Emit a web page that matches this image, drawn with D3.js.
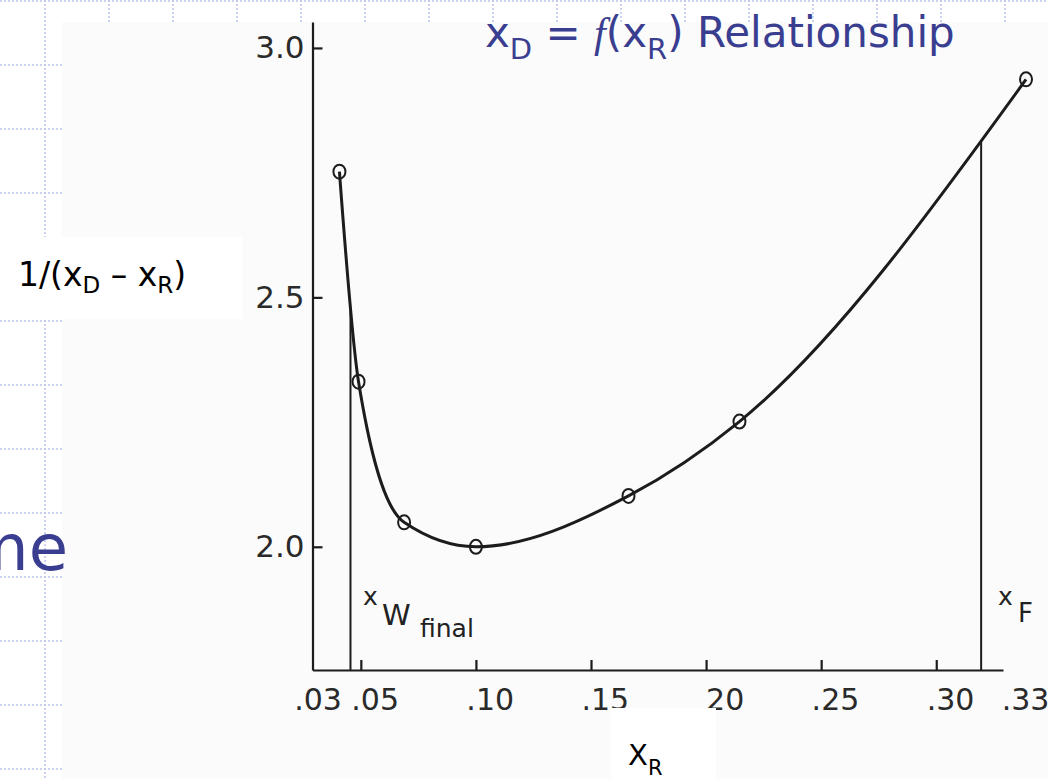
<!DOCTYPE html>
<html>
<head>
<meta charset="utf-8">
<script src="https://cdn.jsdelivr.net/npm/d3@7"></script>
<style>
  body { margin: 0; background: #fff; }
  svg { display: block; }
</style>
</head>
<body>
<div id="chart"></div>
<script>
// points: x_R and 1/(x_D - x_R)
const xR = [0.0407, 0.049, 0.0688, 0.100, 0.1663, 0.2145, 0.339];
const invDiff = [2.752, 2.331, 2.049, 2.000, 2.102, 2.251, 2.937];

const xTicks = [0.05, 0.10, 0.15, 0.20, 0.25, 0.30];
const xLabelValues = [0.03, 0.05, 0.10, 0.15, 0.20, 0.25, 0.30, 0.33];
const xLabels = [".03", ".05", ".10", ".15", "20", ".25", ".30", ".33"];
const yTicks = [2.0, 2.5, 3.0];
const yLabels = ["2.0", "2.5", "3.0"];

const xWfinal = 0.0455;
const xFeed = 0.3195;

const width = 1048, height = 779;
const ink = "#1c1c1c";
const slideBlue = "#3a3e90";

const svg = d3.select("#chart").append("svg")
    .attr("width", width)
    .attr("height", height);

// slide grid (dotted) behind the pasted figure
const grid = svg.append("g").attr("stroke", "#b9c6ee").attr("stroke-width", 1.5)
    .attr("stroke-dasharray", "2,2");
grid.selectAll("line.h").data(d3.range(1, height, 64)).enter().append("line")
    .attr("x1", 0).attr("x2", d => d < 22 ? width : 62)
    .attr("y1", d => d).attr("y2", d => d);
grid.selectAll("line.v").data(d3.range(45, width, 64)).enter().append("line")
    .attr("x1", d => d).attr("x2", d => d)
    .attr("y1", 0).attr("y2", d => d < 62 ? height : 22);

// the scanned page
svg.append("rect").attr("x", 62).attr("y", 22)
    .attr("width", width - 62).attr("height", height - 22)
    .attr("fill", "#fbfbfb");

svg.append("text")
    .attr("x", 68).attr("y", 570)
    .attr("text-anchor", "end")
    .attr("font-family", "DejaVu Sans, Verdana, sans-serif")
    .attr("font-size", 64)
    .attr("fill", slideBlue)
    .text("me");

const x = d3.scaleLinear().domain([0.029, 0.329]).range([312.5, 1003]);
const y = d3.scaleLinear().domain([1.753, 3.052]).range([670, 22]);

const chart = svg.append("g");

chart.append("g")
    .attr("transform", `translate(0,${y.range()[0]})`)
    .call(d3.axisBottom(x).tickValues(xTicks).tickSize(-10).tickSizeOuter(0).tickFormat(""))
    .call(g => g.selectAll("path, line").attr("stroke", ink).attr("stroke-width", 2.2));

chart.append("g")
    .attr("transform", `translate(${x.range()[0]},0)`)
    .call(d3.axisLeft(y).tickValues(yTicks).tickSize(-10).tickSizeOuter(0)
      .tickPadding(8).tickFormat((d, i) => yLabels[i]))
    .call(g => g.selectAll("path, line").attr("stroke", ink).attr("stroke-width", 2.2))
    .call(g => g.selectAll("text")
      .attr("font-family", "DejaVu Sans, sans-serif")
      .attr("font-size", 31)
      .attr("fill", "#2a2a2a"));

// x tick labels: digits start at the tick, the leading dot hangs to the left
const nudge = { 0.03: -11, 0.33: 6 };
const xl = chart.append("g")
    .attr("font-family", "DejaVu Sans, sans-serif")
    .attr("font-size", 30)
    .attr("fill", "#2a2a2a");
const probe = xl.append("text").text(".");
const dotW = probe.node().getComputedTextLength();
probe.remove();
xl.selectAll("text").data(xLabelValues).enter().append("text")
    .attr("x", (d, i) => x(d) - (xLabels[i][0] === "." ? dotW : 0) + (nudge[d] || 0))
    .attr("y", 710)
    .text((d, i) => xLabels[i]);

// smooth curve through the points
const pts = xR.map((d, i) => [d, invDiff[i]]);
const line = d3.line().x(d => x(d[0])).y(d => y(d[1])).curve(d3.curveMonotoneX);
const curve = chart.append("path")
    .attr("d", line(pts))
    .attr("fill", "none")
    .attr("stroke", ink)
    .attr("stroke-width", 3);

// where the curve crosses a given x (pixel), by bisecting along the path
function curveYAt(px) {
  const node = curve.node();
  let lo = 0, hi = node.getTotalLength();
  for (let k = 0; k < 40; k++) {
    const mid = (lo + hi) / 2;
    if (node.getPointAtLength(mid).x < px) lo = mid; else hi = mid;
  }
  return node.getPointAtLength(lo).y;
}

[xWfinal, xFeed].forEach(v => {
  chart.append("line")
    .attr("x1", x(v)).attr("x2", x(v))
    .attr("y1", y.range()[0]).attr("y2", curveYAt(x(v)))
    .attr("stroke", ink).attr("stroke-width", 2);
});

chart.selectAll("ellipse.pt").data(pts).enter().append("ellipse")
    .attr("cx", d => x(d[0])).attr("cy", d => y(d[1]))
    .attr("rx", 6).attr("ry", 7)
    .attr("fill", "none")
    .attr("stroke", ink).attr("stroke-width", 2);

// lettering on the figure
const letter = chart.append("g")
    .attr("font-family", "DejaVu Sans, sans-serif")
    .attr("fill", "#222");
letter.append("text").attr("x", 363).attr("y", 605).attr("font-size", 25).text("x");
letter.append("text").attr("x", 382).attr("y", 625).attr("font-size", 29).text("W");
letter.append("text").attr("x", 420).attr("y", 637).attr("font-size", 25).text("final");
letter.append("text").attr("x", 998).attr("y", 605).attr("font-size", 25).text("x");
letter.append("text").attr("x", 1018).attr("y", 622).attr("font-size", 26).text("F");

// white boxes holding the slide's own labels
svg.append("rect").attr("x", 0).attr("y", 237).attr("width", 242).attr("height", 82).attr("fill", "#fff");
svg.append("rect").attr("x", 611).attr("y", 708).attr("width", 105).attr("height", 71).attr("fill", "#fff");

const yTitle = svg.append("text")
    .attr("x", 18).attr("y", 286)
    .attr("font-family", "DejaVu Sans, Verdana, sans-serif")
    .attr("font-size", 33)
    .attr("fill", "#000");
yTitle.append("tspan").text("1/(x");
yTitle.append("tspan").attr("font-size", 23).attr("dy", 7).text("D");
yTitle.append("tspan").attr("dy", -7).text(" – x");
yTitle.append("tspan").attr("font-size", 23).attr("dy", 7).text("R");
yTitle.append("tspan").attr("dy", -7).text(")");

const xTitle = svg.append("text")
    .attr("x", 628).attr("y", 765)
    .attr("font-family", "DejaVu Sans, Verdana, sans-serif")
    .attr("font-size", 29)
    .attr("fill", "#000");
xTitle.append("tspan").text("X");
xTitle.append("tspan").attr("font-size", 21).attr("dy", 10).text("R");

const title = svg.append("text")
    .attr("x", 485).attr("y", 47)
    .attr("font-family", "DejaVu Sans, Verdana, sans-serif")
    .attr("font-size", 42)
    .attr("fill", slideBlue);
title.append("tspan").text("x");
title.append("tspan").attr("font-size", 29).attr("dy", 12).text("D");
title.append("tspan").attr("dy", -12).text(" = ");
title.append("tspan").attr("font-family", "Liberation Serif, serif").attr("font-style", "italic").text("f");
title.append("tspan").text("(x");
title.append("tspan").attr("font-size", 29).attr("dy", 12).text("R");
title.append("tspan").attr("dy", -12).text(") Relationship");
</script>
</body>
</html>
